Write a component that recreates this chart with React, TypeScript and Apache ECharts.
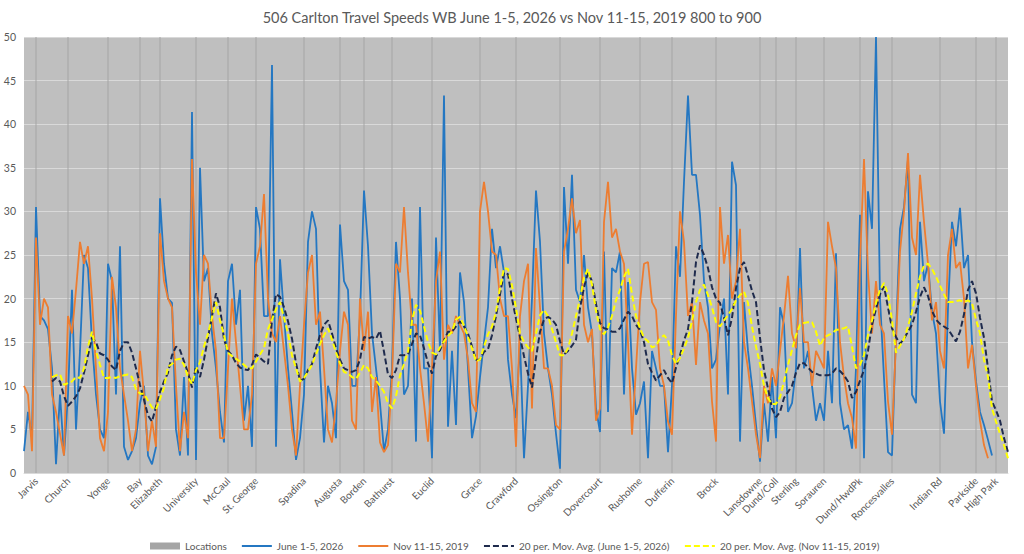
import React, { useEffect, useRef } from "react";
import * as echarts from "echarts";

const TITLE = "506 Carlton Travel Speeds WB June 1-5, 2026 vs Nov 11-15, 2019 800 to 900";

const locationNames = [
  "Jarvis", "Church", "Yonge", "Bay", "Elizabeth", "University", "McCaul", "St. George",
  "Spadina", "Augusta", "Borden", "Bathurst", "Euclid", "Grace", "Crawford", "Ossington",
  "Dovercourt", "Rusholme", "Dufferin", "Brock", "Lansdowne", "Dund/Coll", "Sterling",
  "Sorauren", "Dund/HwdPk", "Roncesvalles", "Indian Rd", "Parkside", "High Park",
];
const locationIndex = [
  3, 11, 21, 29, 34, 43, 51, 58, 70, 79, 85, 92, 102, 114, 123, 134, 144, 154, 162, 173,
  184, 188, 193, 200, 209, 217, 229, 238, 243,
];
const locationValue = 50;

const june2026 = [
  2.5, 7, 4, 30.5, 18, 17.5, 16.5, 12, 1, 9,
  2, 9, 21, 5, 14, 25, 23.5, 15, 9, 5,
  4, 24, 22, 9, 26, 3, 1.5, 2.5, 4, 8,
  10, 2, 1, 3, 31.5, 24, 20, 19.5, 5, 2,
  11, 2, 41.4, 1.5, 35, 22, 23.5, 16, 12, 7,
  3.5, 22, 24, 17, 21, 6, 10, 3, 30.5, 28,
  18, 18, 46.8, 3, 24.5, 18, 12, 7, 1.5, 4,
  9, 26.5, 30, 28, 12, 3.5, 10, 8, 4, 28.5,
  22, 21, 10, 10, 18, 32.4, 26, 16, 12, 8,
  2.5, 5, 12, 26.5, 20, 9, 10, 20, 3.6, 30.5,
  12, 12, 1.7, 27, 14, 43.3, 5.3, 14, 5.5, 23,
  19.6, 12, 4, 6.5, 11, 15, 19, 28, 23.5, 26,
  23, 13, 9, 6.3, 15, 1.7, 10, 20, 32.4, 26.5,
  16, 12, 9, 4.5, 0.5, 32.8, 24, 34.2, 21, 19.6,
  25, 19, 16, 7.4, 4.7, 25.4, 7, 23.5, 23, 25.4,
  9, 21.9, 12, 6.7, 8, 10.5, 1.7, 14, 12, 10,
  10, 2.4, 10, 26, 22.5, 33.4, 43.3, 34.2, 34.2, 29.6,
  22, 19, 12, 13, 17, 20, 9, 35.7, 33, 3.6,
  19.6, 14, 10, 5.5, 1.3, 8, 3.6, 11, 4, 19,
  17, 7, 8, 12, 25.8, 12, 14, 10, 6, 8,
  6, 14, 8, 25.2, 8, 5, 5.5, 2.8, 12, 29.6,
  1.7, 32.3, 28, 50, 20, 10.9, 2.4, 2, 16, 28,
  30.5, 36, 9, 8, 28.8, 22, 24, 18.5, 16, 8.2,
  4.5, 18.9, 28.8, 26, 30.4, 23.5, 25, 15, 10.5, 7,
  5.5, 3.8, 2, null, null, null, null,
];

const nov2019 = [
  10, 9, 2.5, 27, 17, 20, 19, 9, 7, 4.5,
  2, 18, 16, 21, 26.5, 24, 26, 20, 12, 4,
  2.5, 7, 22.5, 19, 12, 9, 6, 2.5, 5, 14,
  9, 2.5, 6, 3, 27.5, 22, 20, 19, 10, 2.5,
  7, 4, 36, 23, 17, 25, 24, 18, 14, 4,
  4, 12, 20, 15, 10, 5, 5, 9, 24, 26,
  32, 20, 16, 15, 18, 14, 10, 5, 2, 10,
  17, 23, 25, 17, 18.5, 12, 5, 3.5, 8, 14,
  18.5, 17, 6, 5, 20, 14, 18.5, 7, 11, 3.5,
  2.4, 3.2, 11, 24, 23, 30.5, 23, 17, 17, 12,
  8, 3.6, 12, 22, 25.4, 13, 17, 16, 18, 17,
  16, 13, 8, 7, 30, 33.4, 30, 25.4, 25, 20,
  18, 18, 12, 3, 18, 22, 24, 7.4, 25.8, 19,
  12, 12, 10, 5.5, 5, 25.4, 28, 31.5, 27.5, 29,
  17, 15, 16.5, 6, 7.4, 28.8, 33.4, 27, 28, 25.4,
  24, 15, 4.4, 12, 19.6, 24, 24.2, 19.6, 18.7, 12,
  10, 5.9, 4.4, 18, 30, 26.5, 18, 19.6, 12.4, 19.6,
  17.5, 16, 8.2, 3.6, 30.5, 24, 27.3, 20, 22, 28,
  15, 12, 8.2, 4.4, 1.7, 10, 8, 12, 10, 14,
  18, 22.6, 16, 14.3, 21.2, 15, 15, 10, 14, 13,
  12, 28.8, 26, 23.5, 15, 11, 8, 6.3, 2.8, 24.2,
  36, 23, 16, 22, 17, 16, 8.2, 4.4, 15, 25.4,
  30, 36.7, 27, 25, 34.2, 28.8, 24, 17.5, 19.6, 14,
  12, 25, 28, 23.5, 24.2, 20, 12, 14.7, 10, 6,
  3.2, 1.7, null, null, null, null, null,
];

const maJune2026 = [
  null, null, null, null, null, null, null, 10.5, 10.9, 10.5,
  8.8, 7.7, 8.2, 8.8, 9.7, 11.5, 13.5, 15.5, 15, 13.7,
  13.5, 13, 12.2, 11.8, 14, 15, 15, 13.8, 12, 10.1,
  8.4, 6.6, 5.9, 7.6, 9.3, 10.5, 11.5, 13.5, 14.5, 14.1,
  12.8, 11.5, 9.8, 12.2, 11, 13, 15.5, 18, 20.6, 19,
  15.3, 14, 13.5, 12.6, 12.1, 11.9, 11.8, 12.4, 13.6, 13.2,
  12.8, 12.5, 17.5, 20.5, 20.2, 19, 17.4, 15.4, 12.6, 10.6,
  10.8, 11.8, 12.5, 14.3, 15.8, 17, 17.5, 16, 14.3, 13,
  12, 11.8, 11.6, 11.8, 13, 15.6, 15.4, 15.6, 15.4, 16.3,
  13.9, 11.3, 10.9, 11.8, 13.5, 13.5, 13.6, 14.8, 16, 15.8,
  14.3, 12.6, 11.4, 13.4, 14.1, 15.2, 16.2, 16.2, 16.8, 17.4,
  16.8, 16, 14.5, 13, 13, 13.9, 14.2, 15.8, 18, 20.5,
  23, 22.8, 20, 17.7, 15.6, 13.4, 11.4, 9.8, 13.2, 16.2,
  17.6, 17.9, 17.6, 17, 15.1, 13.6, 14, 14.6, 15.3, 18.9,
  21.3, 23, 22, 19.4, 17.2, 16.6, 16.5, 16.2, 16.2, 16.6,
  17.6, 18.5, 18, 17, 16.4, 15, 12.5, 11.5, 10.6, 11.2,
  11.8, 10.9, 10.3, 12.1, 13.5, 15.2, 16.5, 19.6, 24.2, 26.1,
  25, 23.5, 21.3, 20, 19.5, 17.8, 15.8, 17.8, 21.2, 23.5,
  24.2, 22.6, 20.9, 19.6, 15.5, 11.8, 9.7, 7.4, 6.4, 7,
  8.6, 9.3, 10, 11.5, 12.6, 12.6, 12.1, 11.6, 11.4, 11.2,
  11.2, 11.2, 11.4, 12, 11.7, 11.2, 10.5, 8.6, 9.3, 10.6,
  11.8, 14, 17, 18.8, 20.5, 21.4, 19, 16.6, 15.6, 14.8,
  15.4, 16.2, 17, 18.5, 20.2, 21.3, 20.3, 18.6, 17.6, 17.1,
  16.8, 16.5, 15.8, 15.1, 16.2, 18.2, 21, 22, 20.6, 17.8,
  15.5, 12, 8.2, 7.2, 6, 4, 2.4,
];

const maNov2019 = [
  null, null, null, null, null, null, null, 11, 11.2, 11.3,
  10.1, 10.3, 10.5, 11, 10.9, 12, 14.5, 16.2, 14, 12.4,
  10.9, 10.9, 11, 10.9, 11.1, 11.2, 11.3, 11, 9.6, 9.1,
  9.1, 8.3, 7.5, 7.3, 8.5, 9.8, 12.2, 12.5, 13, 13.1,
  12.4, 11, 10.2, 11.8, 12.7, 14.5, 16, 17.8, 19.6, 17.5,
  15.8, 13.8, 13.4, 13.1, 12.8, 12.4, 12, 12, 12.8, 13.6,
  14.3, 16.5, 17.6, 18.8, 19.6, 17.8, 16, 13.5, 12, 10.5,
  10.9, 11.6, 12.4, 13.6, 14.8, 15.8, 16.6, 15.3, 13.8, 12.6,
  11.6, 11.4, 11, 10.8, 11.5, 12.4, 12, 11, 10.6, 10,
  9.3, 8, 7.4, 8.8, 11.2, 12.5, 14, 17.5, 19.3, 18.6,
  16.8, 15, 13.8, 13.6, 14.4, 15.1, 15.7, 16.2, 17.6, 17.9,
  16.9, 15.6, 14.3, 12.8, 13, 14.5, 15.9, 16.8, 18.5, 21.2,
  23.5, 23.4, 21.5, 18.9, 16, 15, 14.4, 14, 16, 18.1,
  18.7, 18, 16.5, 15, 13.5, 13.5, 14.3, 16, 18, 20,
  22.4, 23.4, 21.6, 18.6, 16.5, 15.9, 16.7, 18, 19.8, 21,
  22.5, 23.4, 20.5, 18, 16.6, 15.5, 15.1, 14.4, 14.6, 15.4,
  15.8, 15.2, 13.5, 12.5, 13.2, 14.3, 15.5, 17.4, 19.6, 21,
  21.6, 20.4, 19, 17.3, 16.8, 17.5, 18.1, 18.8, 19.8, 20.4,
  20.8, 19.5, 16.8, 14.5, 12.5, 10, 8.6, 7.9, 7.9, 8.7,
  10.5, 12.4, 14.1, 15.8, 17, 17.2, 17.3, 17.3, 16.2, 14.6,
  15.5, 15.8, 16, 16.4, 16.5, 16.6, 16.8, 14.5, 12, 12.4,
  13.5, 15.8, 17.5, 19.5, 21, 21.8, 20.5, 17.5, 13.8, 14.6,
  15.4, 16.8, 18.5, 20.6, 22.5, 23.8, 24, 23.4, 22.5, 21.5,
  20.5, 19.6, 19.6, 19.7, 19.8, 19.6, 19.8, 19.5, 17.6, 16,
  13, 11, 7.4, 5.9, 4.5, 3.2, 1.7,
];

const N = maNov2019.length;
const categoryLabels: string[] = Array.from({ length: N }, () => "");
locationIndex.forEach((idx, k) => {
  categoryLabels[idx] = locationNames[k];
});
const locationBars: (number | null)[] = Array.from({ length: N }, () => null);
locationIndex.forEach((idx) => {
  locationBars[idx] = locationValue;
});

const FONT = "Lato, 'Open Sans', sans-serif";
const TEXT = "#595959";
const noSymbol = { opacity: 0 };

export default function App() {
  const ref = useRef<HTMLDivElement>(null);
  useEffect(() => {
    if (!ref.current) return;
    const chart = echarts.init(ref.current, undefined, { renderer: "svg" });
    chart.setOption({
      animation: false,
      backgroundColor: "#ffffff",
      title: {
        text: TITLE,
        left: "center",
        top: 5,
        textStyle: { fontFamily: FONT, fontSize: 14.5, fontWeight: "normal", color: TEXT },
      },
      legend: {
        left: 145,
        top: 536,
        itemWidth: 30,
        itemHeight: 7,
        itemGap: 14,
        textStyle: { fontFamily: FONT, fontSize: 10, color: TEXT },
        data: [
          { name: "Locations", icon: "rect" },
          { name: "June 1-5, 2026", itemStyle: noSymbol },
          { name: "Nov 11-15, 2019", itemStyle: noSymbol },
          { name: "20 per. Mov. Avg. (June 1-5, 2026)", itemStyle: noSymbol },
          { name: "20 per. Mov. Avg. (Nov 11-15, 2019)", itemStyle: noSymbol },
        ],
      },
      grid: {
        left: 24,
        right: 16,
        top: 37,
        bottom: 81,
        show: true,
        backgroundColor: "#bfbfbf",
        borderWidth: 0,
      },
      xAxis: {
        type: "category",
        data: categoryLabels,
        boundaryGap: false,
        axisLine: { lineStyle: { color: "#d9d9d9" } },
        axisTick: { show: false },
        splitLine: { show: false },
        axisLabel: {
          interval: 0,
          rotate: 45,
          margin: 6,
          fontFamily: FONT,
          fontSize: 10,
          color: TEXT,
        },
      },
      yAxis: {
        type: "value",
        min: 0,
        max: 50,
        interval: 5,
        axisLine: { show: false },
        axisTick: { show: false },
        axisLabel: { fontFamily: FONT, fontSize: 10.5, color: TEXT, margin: 8 },
        splitLine: { lineStyle: { color: "#d9d9d9", width: 1 } },
      },
      series: [
        {
          name: "Locations",
          type: "bar",
          data: locationBars,
          barWidth: 1,
          itemStyle: { color: "#a5a5a5" },
          silent: true,
        },
        {
          name: "June 1-5, 2026",
          type: "line",
          data: june2026,
          symbol: "none",
          lineStyle: { color: "#2477c2", width: 1.8 },
          itemStyle: { color: "#2477c2" },
        },
        {
          name: "Nov 11-15, 2019",
          type: "line",
          data: nov2019,
          symbol: "none",
          lineStyle: { color: "#ed7d31", width: 1.8 },
          itemStyle: { color: "#ed7d31" },
        },
        {
          name: "20 per. Mov. Avg. (June 1-5, 2026)",
          type: "line",
          data: maJune2026,
          symbol: "none",
          lineStyle: { color: "#1f2b4d", width: 2, type: [6, 3] },
          itemStyle: { color: "#1f2b4d" },
        },
        {
          name: "20 per. Mov. Avg. (Nov 11-15, 2019)",
          type: "line",
          data: maNov2019,
          symbol: "none",
          lineStyle: { color: "#ffff00", width: 2, type: [6, 3] },
          itemStyle: { color: "#ffff00" },
        },
      ],
    });
    return () => chart.dispose();
  }, []);
  return (
    <div
      ref={ref}
      style={{ position: "absolute", left: 0, top: 0, width: 1024, height: 554 }}
    />
  );
}
